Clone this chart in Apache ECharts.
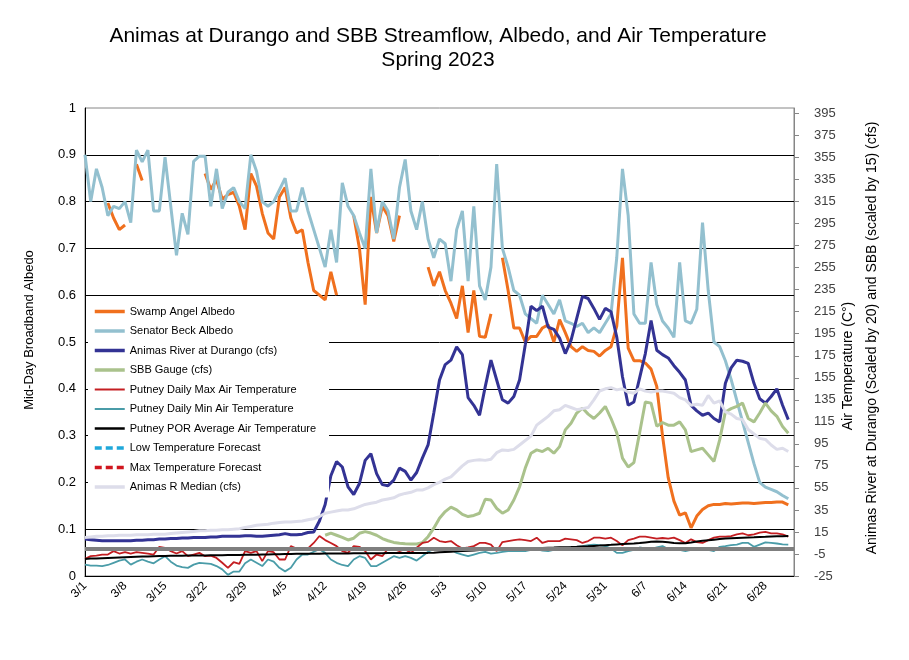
<!DOCTYPE html>
<html>
<head>
<meta charset="utf-8">
<script src="https://cdn.jsdelivr.net/npm/echarts@6/dist/echarts.min.js"></script>
<style>html,body{margin:0;padding:0;background:#fff}#c{width:909px;height:660px}</style>
</head>
<body>
<div id="c"></div>
<script>
const dates = [
"3/1","3/2","3/3","3/4","3/5","3/6","3/7","3/8","3/9","3/10","3/11","3/12","3/13","3/14","3/15","3/16","3/17","3/18","3/19","3/20","3/21","3/22","3/23","3/24","3/25","3/26","3/27","3/28","3/29","3/30","3/31",
"4/1","4/2","4/3","4/4","4/5","4/6","4/7","4/8","4/9","4/10","4/11","4/12","4/13","4/14","4/15","4/16","4/17","4/18","4/19","4/20","4/21","4/22","4/23","4/24","4/25","4/26","4/27","4/28","4/29","4/30",
"5/1","5/2","5/3","5/4","5/5","5/6","5/7","5/8","5/9","5/10","5/11","5/12","5/13","5/14","5/15","5/16","5/17","5/18","5/19","5/20","5/21","5/22","5/23","5/24","5/25","5/26","5/27","5/28","5/29","5/30","5/31",
"6/1","6/2","6/3","6/4","6/5","6/6","6/7","6/8","6/9","6/10","6/11","6/12","6/13","6/14","6/15","6/16","6/17","6/18","6/19","6/20","6/21","6/22","6/23","6/24","6/25","6/26","6/27","6/28","6/29","6/30",
"7/1","7/2","7/3"];

const swampAngelAlbedo = [
null,null,null,null,0.797,0.765,0.74,0.75,null,0.88,
0.845,null,null,null,null,null,null,null,null,null,
null,0.86,0.826,0.847,0.805,0.815,0.82,0.79,0.74,0.86,
0.833,0.775,0.733,0.72,0.81,0.83,0.765,0.733,0.74,0.67,
0.61,0.60,0.59,0.65,0.60,null,null,0.77,0.70,0.58,
0.81,0.733,0.79,0.77,0.715,0.77,null,null,null,null,
0.66,0.62,0.65,0.61,0.583,0.55,0.62,0.52,0.61,0.512,
0.51,0.56,null,0.68,0.61,0.53,0.53,0.50,0.512,0.512,
0.53,0.537,0.50,0.548,0.52,0.49,0.48,0.49,0.482,0.48,
0.47,0.482,0.49,0.534,0.68,0.487,0.46,0.46,0.455,0.442,
0.405,0.30,0.21,0.16,0.13,0.135,0.103,0.128,0.142,0.15,
0.153,0.153,0.155,0.154,0.155,0.156,0.156,0.155,0.156,0.157,
0.157,0.158,0.158,0.152];

const senatorBeckAlbedo = [
0.90,0.80,0.87,0.83,0.77,0.79,0.785,0.80,0.755,0.91,
0.885,0.91,0.78,0.78,0.895,0.79,0.685,0.775,0.73,0.886,
0.897,0.897,0.79,0.87,0.785,0.82,0.83,0.80,0.785,0.90,
0.865,0.80,0.79,0.80,0.825,0.85,0.78,0.78,0.83,0.78,
0.74,0.70,0.66,0.74,0.67,0.84,0.79,0.77,0.733,0.70,
0.87,0.733,0.80,0.78,0.72,0.83,0.89,0.78,0.74,0.80,
0.72,0.68,0.72,0.71,0.63,0.74,0.78,0.63,0.79,0.62,
0.59,0.66,0.88,0.70,0.66,0.61,0.60,0.56,0.55,0.54,
0.60,0.58,0.56,0.59,0.545,0.54,0.533,0.54,0.52,0.53,
0.52,0.54,0.56,0.68,0.87,0.77,0.56,0.54,0.54,0.67,
0.58,0.545,0.53,0.51,0.67,0.545,0.54,0.57,0.755,0.61,
0.50,0.49,0.46,0.42,0.375,0.33,0.285,0.24,0.20,0.19,
0.185,0.18,0.172,0.165];

const animasDurango = [
8.5,8,7.5,7,7,7,7,7,7,7.5,
7.5,8,8,8.5,8.5,9,9,9.5,9.5,10,
10,10,10.5,10.5,11,11,11,11,11.5,11.5,
11,11,11.5,12,12.5,13.5,12.5,12.5,13,14.5,
15,25,40,66,79,74,56,49,59,80,
86,68,58,57,62,73,70,62,69,82,
94,123,153,167,171,183,176,137,130,121,
147,171,153,135,132,138,153,185,220,216,
220,201,199,191,177,189,209,229,227,218,
208,218,215,192,156,130,133,155,177,207,
180,176,173,166,160,153,130,125,121,123,
118,115,150,164,171,170,168,150,136,132,
138,145,130,117];

const sbbGauge = [
null,null,null,null,null,null,null,null,null,null,
null,null,null,null,null,null,null,null,null,null,
null,null,null,null,null,null,null,null,null,null,
null,null,null,null,null,null,null,null,null,null,
null,null,12,14,12,10,7.7,9.3,13.8,15.3,
14,12,9,7,5.5,4.7,4.2,4,4,5.3,
10.7,18.4,27.5,33.5,37.5,35,31,29,30,32,
44.7,44,36.5,32,35,44,56,73,86.5,89.5,
88,91,86.5,92.5,107.7,113.8,123,127.5,122,118,
123,129,118,105,82,74,78,105,133,132,
111,114.4,112,112,115,107.7,88,89.5,91,85,
79,98.6,124,127,129,132,118,115,123,132,
125,120,110.7,104.7];

const putneyMax = [
-9.5,-7,-6.5,-5.5,-5.5,-2.4,-4.6,-3.4,-4.6,-3.4,
-4,-4.6,-5.5,1.5,0.6,-2.4,-4.6,-2.4,-7,-5.5,
-4,-7,-6.5,-8.6,-13,-17.6,-12.5,-14,-2.4,-4,
-2.4,-11.5,-2.4,-3.4,-10,-10,2.1,0,-0.6,0,
5,11.3,7.6,5,2.1,-2.4,-4,2.1,1.5,-2.4,
-10,-5.5,-7,0,-0.6,-2.4,-0.6,-4,0.6,5,
6,9.8,6.7,5.8,6.7,3,0,0.9,2.1,5,
5,3.5,-2.4,5.8,6.7,7.6,8.3,7.6,6.7,9.8,
5,6.7,6.7,6.7,8.9,8.3,7.6,5,6.7,9.8,
9.8,8.9,9.8,6.7,2.8,7.6,8.9,10.7,10.7,9.8,
8.9,9.5,8.9,9.8,7.6,5,8.3,5.8,5,7.6,
9.8,10.7,10.7,11.3,12.8,13.7,12,12.8,14.4,15,
13.7,13.7,12.8,10.7];

const putneyMin = [
-14.7,-15.5,-15.5,-16,-15,-13,-11,-10,-14.7,-12,
-10,-12,-13.5,-10,-7,-12,-15.5,-17,-17.6,-14.7,
-13,-13.5,-14,-16,-19,-24,-21,-21,-13.5,-10,
-13,-16,-10,-12,-17.6,-20.8,-17.6,-10,-5.5,-5.5,
-3,-0.6,-4,-10,-13,-15,-16,-10,-7,-8.6,
-16,-16,-13,-10,-7,-8.6,-7,-8.6,-11,-7,
-3,-0.6,-0.6,-2.4,-1.2,-4,-5.5,-7,-5.5,-4,
-3,-4.6,-4,-3,-2.4,-2.4,-2.4,-2.4,-1.2,-0.6,
-2,-2.4,-1.2,0,0,0.9,1.5,2.1,3,3.5,
3,2.1,0,-4,-4,-2.4,-1.2,0.9,0,-0.6,
0.9,2.1,-0.6,0,-1.2,-2.4,-1.2,0,-1.2,-1.2,
-2.4,1.5,2.1,3,3.5,5,5,1.5,3.5,5.5,
5,4.5,3.8,3.5];

const putneyPOR = [
-9.5,-9.2,-9,-8.8,-8.6,-8.4,-8.2,-8,-7.8,-7.6,
-7.4,-7.2,-7,-6.9,-6.8,-6.7,-6.6,-6.5,-6.4,-6.4,
-6.3,-6.3,-6.2,-6.2,-6.1,-6,-6,-5.9,-5.8,-5.7,
-5.6,-5.5,-5.4,-5.3,-5.2,-5.1,-5,-4.9,-4.8,-4.8,
-4.7,-4.7,-4.6,-4.6,-4.5,-4.5,-4.5,-4.4,-4.4,-4.4,
-4.3,-4.3,-4.3,-4.2,-4.2,-4.2,-4.1,-4.1,-4.1,-4,
-4,-3.8,-3.5,-3.2,-3,-2.6,-2.3,-2,-1.8,-1.5,
-1.3,-1.2,-1,-0.8,-0.6,-0.4,-0.2,0,0.2,0.3,
0.5,0.7,0.8,1,1.2,1.3,1.5,1.8,2,2.3,
2.6,3,3.3,3.7,4,4.3,4.6,5,5.5,6,
6.3,6,5.6,5,4.8,4.8,5.5,6.3,7,7.5,
8,8.5,9,9.3,9.6,9.8,10,10.2,10.5,10.6,
10.8,11,11.2,11.3];

const lowTempForecast = [];
const maxTempForecast = [];

const animasMedian = [
10,10.5,11,11,11.5,11.5,12,12,12,12.5,
12.5,12.5,13,13,13,13.5,14,14.5,15,15.5,
16,16,16.5,16.5,17,17,17.5,18,19,20,
21,21.5,22,23,23.5,24,24,24.5,25,26,
27,29,32,33,34,35,35,36,38,40,
41,42,44,45,46,48.6,50,51,53,53,
55,58,60,63,65,70,75,79,80,80.5,
80,81,87,89.5,89,90,94,98,102,112,
116,120,125,126,130,128,126,127,128,135,
143,145,146,144,145,142,141,145,143,142,
143,143,142,141,137,135,130,131,130,139,
132,134,124,122,118,117,108,104,100,99,
94,90,91,88];

const FREEZING = 0;
const albedoAxis = {min: 0, max: 1, step: 0.1};
const rightAxis = {min: -25, max: 400, step: 20};

const FONT = '"Liberation Sans", Arial, sans-serif';

const chart = echarts.init(document.getElementById('c'), null, {renderer: 'canvas'});

function line(name, data, color, width, yIdx, extra) {
  return Object.assign({
    name: name, type: 'line', data: data, yAxisIndex: yIdx,
    symbol: 'none', showSymbol: false, connectNulls: false,
    lineStyle: {color: color, width: width}, itemStyle: {color: color},
    emphasis: {disabled: true}, silent: true
  }, extra || {});
}

function lg(name, w) { return {name: name, lineStyle: {width: w}}; }

const option = {
  animation: false,
  backgroundColor: '#fff',
  grid: {left: 85, right: 115, top: 108, bottom: 84, show: true, borderColor: '#868686', borderWidth: 1, backgroundColor: 'transparent'},
  graphic: [
    {type: 'text', style: {text: 'Animas at Durango and SBB Streamflow, Albedo, and Air Temperature', x: 438, y: 36, align: 'center', verticalAlign: 'middle', font: '21px ' + FONT, fill: '#000'}},
    {type: 'text', style: {text: 'Spring 2023', x: 438, y: 60, align: 'center', verticalAlign: 'middle', font: '21px ' + FONT, fill: '#000'}},
    {type: 'text', x: 29, y: 330, rotation: Math.PI / 2, style: {text: 'Mid-Day Broadband Albedo', x: 0, y: 0, align: 'center', verticalAlign: 'middle', font: '13px ' + FONT, fill: '#000'}},
    {type: 'text', x: 848, y: 366, rotation: Math.PI / 2, style: {text: 'Air Temperature (C°)', x: 0, y: 0, align: 'center', verticalAlign: 'middle', font: '14px ' + FONT, fill: '#000'}},
    {type: 'text', x: 872, y: 338, rotation: Math.PI / 2, style: {text: 'Animas River at Durango (Scaled by 20) and SBB (scaled by 15) (cfs)', x: 0, y: 0, align: 'center', verticalAlign: 'middle', font: '14px ' + FONT, fill: '#000'}}
  ],
  legend: {
    orient: 'vertical', left: 88, top: 301, padding: [5, 13, 5, 5],
    backgroundColor: '#fff', itemWidth: 30, itemHeight: 12, itemGap: 8.5,
    itemStyle: {opacity: 0},
    textStyle: {fontFamily: FONT, fontSize: 11, color: '#000'},
    selectedMode: false,
    data: [lg('Swamp Angel Albedo', 3.5), lg('Senator Beck Albedo', 3.5), lg('Animas River at Durango (cfs)', 3.5), lg('SBB Gauge (cfs)', 3.5),
      lg('Putney Daily Max Air Temperature', 2), lg('Putney Daily Min Air Temperature', 2), lg('Putney POR Average Air Temperature', 2.5),
      lg('Low Temperature Forecast', 3.5), lg('Max Temperature Forecast', 3.5), lg('Animas R Median (cfs)', 3.5)]
  },
  xAxis: {
    type: 'category', data: dates, boundaryGap: false,
    axisLine: {lineStyle: {color: '#000', width: 1}},
    axisTick: {show: false},
    axisLabel: {interval: 6, rotate: 45, margin: 8, fontFamily: FONT, fontSize: 12, color: '#000'},
    splitLine: {show: false}
  },
  yAxis: [
    {
      type: 'value', min: albedoAxis.min, max: albedoAxis.max, interval: albedoAxis.step, position: 'left',
      axisLine: {show: true, lineStyle: {color: '#000'}},
      axisTick: {show: false},
      axisLabel: {margin: 9, fontFamily: FONT, fontSize: 13, color: '#000'},
      splitLine: {show: true, showMinLine: false, showMaxLine: false, lineStyle: {color: '#000', width: 1}}
    },
    {
      type: 'value', min: rightAxis.min, max: rightAxis.max, interval: rightAxis.step, position: 'right',
      axisLine: {show: true, lineStyle: {color: '#868686'}},
      axisTick: {show: true, length: 5, inside: false, lineStyle: {color: '#868686'}},
      axisLabel: {margin: 20, fontFamily: FONT, fontSize: 13, color: '#404040', showMaxLabel: false},
      splitLine: {show: false}
    }
  ],
  series: [
    line('Swamp Angel Albedo', swampAngelAlbedo, '#F0701E', 3, 0),
    line('Senator Beck Albedo', senatorBeckAlbedo, '#93C0CF', 3, 0),
    line('Animas River at Durango (cfs)', animasDurango, '#333394', 3, 1),
    line('SBB Gauge (cfs)', sbbGauge, '#AAC28C', 3, 1, {
      markLine: {silent: true, symbol: 'none', label: {show: false},
        lineStyle: {color: '#7F7F7F', width: 4, type: 'solid'},
        data: [{yAxis: FREEZING}]}
    }),
    line('Putney Daily Max Air Temperature', putneyMax, '#C41E22', 1.8, 1),
    line('Putney Daily Min Air Temperature', putneyMin, '#4A9CA8', 1.8, 1),
    line('Putney POR Average Air Temperature', putneyPOR, '#000000', 2, 1),
    line('Low Temperature Forecast', lowTempForecast, '#1FA8DA', 3, 1, {lineStyle: {color: '#1FA8DA', width: 3.5, type: [7, 4]}}),
    line('Max Temperature Forecast', maxTempForecast, '#D0161E', 3, 1, {lineStyle: {color: '#D0161E', width: 3.5, type: [7, 4]}}),
    line('Animas R Median (cfs)', animasMedian, '#DDDDEA', 3, 1)
  ]
};
chart.setOption(option);
</script>
</body>
</html>
